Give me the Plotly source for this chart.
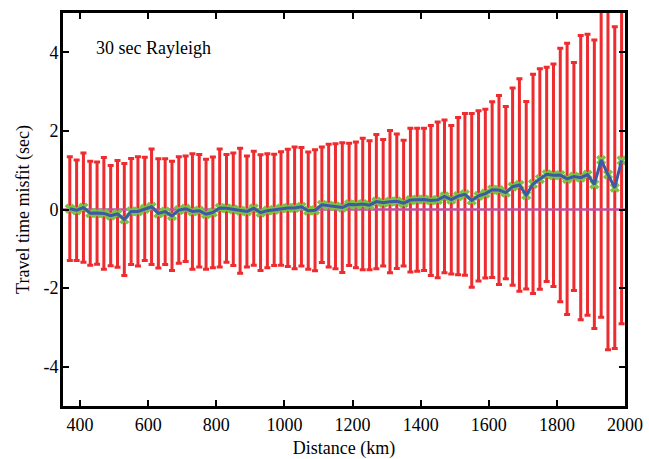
import plotly.graph_objects as go

distance_km = [370, 390, 410, 430, 450, 470, 490, 510, 530, 550, 570, 590, 610,
               630, 650, 670, 690, 710, 730, 750, 770, 790, 810, 830, 850, 870, 890,
               910, 930, 950, 970, 990, 1010, 1030, 1050, 1070, 1090, 1110, 1130, 1150, 1170,
               1190, 1210, 1230, 1250, 1270, 1290, 1310, 1330, 1350, 1370, 1390, 1410, 1430, 1450,
               1470, 1490, 1510, 1530, 1550, 1570, 1590, 1610, 1630, 1650, 1670, 1690, 1710, 1730,
               1750, 1770, 1790, 1810, 1830, 1850, 1870, 1890, 1910, 1930, 1950, 1970, 1990]

mean_misfit = [0.02, -0.02, 0.05, -0.095, -0.09, -0.10, -0.155, -0.11, -0.255, -0.05, -0.05, 0.015, 0.07,
               -0.10, -0.055, -0.16, -0.015, 0.02, -0.05, -0.03, -0.12, -0.075, 0.04, 0.03, 0.005, -0.03, -0.05,
               0.03, -0.08, -0.03, -0.01, 0.025, 0.04, 0.04, 0.07, -0.03, -0.02, 0.12, 0.10, 0.08, 0.05,
               0.13, 0.12, 0.14, 0.11, 0.20, 0.17, 0.20, 0.21, 0.16, 0.24, 0.25, 0.255, 0.23, 0.245,
               0.335, 0.25, 0.34, 0.385, 0.23, 0.345, 0.405, 0.505, 0.495, 0.43, 0.58, 0.625, 0.365, 0.65,
               0.775, 0.895, 0.87, 0.875, 0.78, 0.84, 0.81, 0.885, 0.64, 1.26, 0.89, 0.555, 1.25]

std_misfit = [1.32, 1.28, 1.39, 1.325, 1.30, 1.42, 1.275, 1.36, 1.425, 1.35, 1.39, 1.315, 1.47,
              1.39, 1.345, 1.39, 1.355, 1.34, 1.47, 1.43, 1.40, 1.41, 1.50, 1.37, 1.43, 1.59, 1.41,
              1.45, 1.47, 1.45, 1.415, 1.445, 1.49, 1.55, 1.51, 1.49, 1.54, 1.47, 1.56, 1.59, 1.65,
              1.555, 1.60, 1.67, 1.64, 1.71, 1.61, 1.81, 1.71, 1.60, 1.83, 1.82, 1.81, 1.91, 1.98,
              1.945, 1.89, 2.00, 2.06, 2.21, 2.165, 2.145, 2.235, 2.405, 2.19, 2.51, 2.705, 2.385, 2.79,
              2.805, 2.725, 2.83, 3.225, 3.45, 2.90, 3.615, 3.575, 3.67, 4.00, 4.46, 4.095, 4.16]

x_ticks = [400, 600, 800, 1000, 1200, 1400, 1600, 1800, 2000]
y_ticks = [-4, -2, 0, 2, 4]
y_tick_labels = ["-4", "-2", "0", "2", "4"]
x_range = [350, 2000]
y_range = [-5, 5]

FONT = "Liberation Serif, Times New Roman, serif"

fig = go.Figure()

# error bars
fig.add_trace(go.Scatter(
    x=distance_km, y=mean_misfit, mode="markers",
    marker=dict(size=1, color="rgba(0,0,0,0)"),
    error_y=dict(type="data", array=std_misfit, symmetric=True,
                 color="#ee2b2e", thickness=3, width=3),
    showlegend=False, hoverinfo="skip"))

# zero line
fig.add_trace(go.Scatter(
    x=x_range, y=[0, 0], mode="lines",
    line=dict(color="#c2509c", width=2.5),
    showlegend=False, hoverinfo="skip"))

# green markers
fig.add_trace(go.Scatter(
    x=distance_km, y=mean_misfit, mode="markers",
    marker=dict(symbol="x", size=9, color="#7cc245", line=dict(width=0)),
    showlegend=False))

# blue line
fig.add_trace(go.Scatter(
    x=distance_km, y=mean_misfit, mode="lines",
    line=dict(color="#3d5aa4", width=3),
    showlegend=False))

axis_common = dict(showgrid=False, zeroline=False, showline=True, linecolor="black",
                   linewidth=3, mirror="ticks", ticks="inside", ticklen=6, tickwidth=2,
                   tickcolor="black", automargin=False,
                   tickfont=dict(family=FONT, size=18, color="black"))

fig.update_xaxes(range=x_range, tickvals=x_ticks,
                 title=dict(text="Distance (km)", font=dict(family=FONT, size=18, color="black"),
                            standoff=14),
                 **axis_common)
fig.update_yaxes(range=y_range, tickvals=y_ticks, ticktext=y_tick_labels,
                 ticklabelstandoff=-2,
                 title=dict(text="Travel time misfit (sec)", font=dict(family=FONT, size=18, color="black"),
                            standoff=10),
                 **axis_common)

fig.add_annotation(x=440, y=4.1, xref="x", yref="y", text="30 sec Rayleigh",
                   showarrow=False, xanchor="left", yanchor="middle",
                   font=dict(family=FONT, size=18, color="black"))

fig.update_layout(width=649, height=459, plot_bgcolor="white", paper_bgcolor="white",
                  margin=dict(l=63, r=24, t=13, b=53))

fig.write_html("out.html", config={"displayModeBar": False},
               post_script="document.body.style.margin='0';document.body.style.overflow='hidden';")
